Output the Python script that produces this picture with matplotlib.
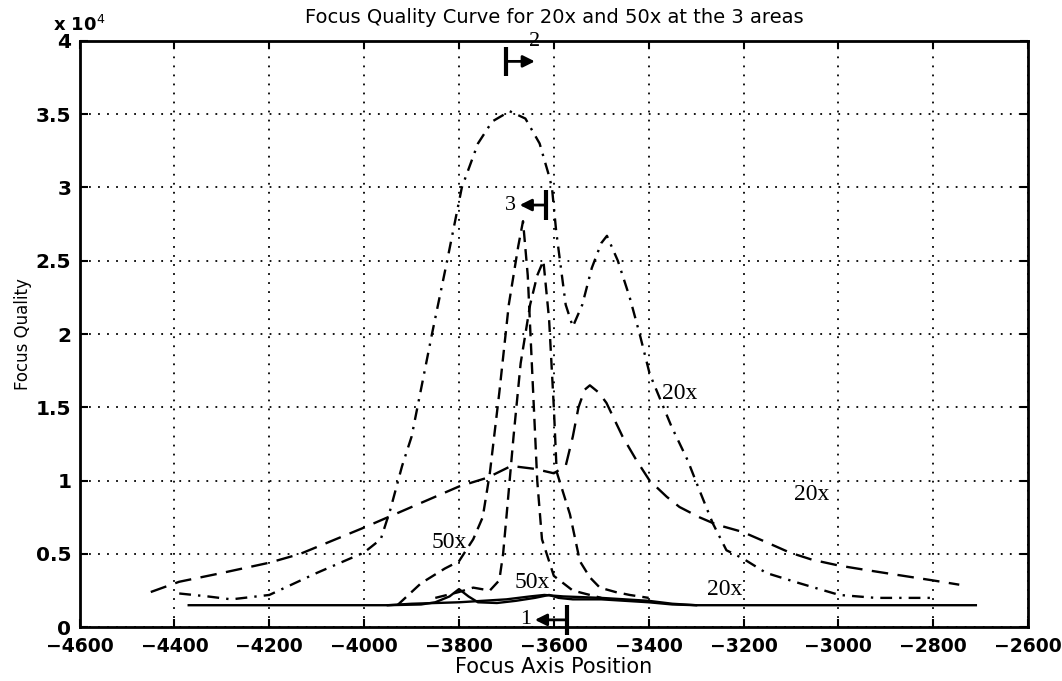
import matplotlib
matplotlib.use('Agg')
import matplotlib.pyplot as plt

# focus quality values are read in units of 1e4
# 20x, area 2 (dash-dot, big peak)
x_20x_a2 = [-4390, -4330, -4280, -4200, -4100, -4000, -3965, -3945, -3920, -3900, -3876, -3857,
            -3825, -3794, -3760, -3730, -3693, -3660, -3630, -3612, -3604, -3595, -3587, -3575,
            -3560, -3540, -3520, -3500, -3488, -3465, -3440, -3419, -3398, -3352, -3318, -3293,
            -3265, -3236, -3202, -3152, -3082, -2998, -2921, -2800]
y_20x_a2 = [0.23, 0.21, 0.19, 0.22, 0.37, 0.51, 0.60, 0.80, 1.10, 1.30, 1.69, 2.00,
            2.50, 3.00, 3.30, 3.45, 3.52, 3.47, 3.30, 3.10, 3.00, 2.70, 2.50, 2.20,
            2.05, 2.20, 2.45, 2.62, 2.67, 2.50, 2.25, 2.00, 1.73, 1.37, 1.14, 0.935,
            0.71, 0.525, 0.47, 0.37, 0.30, 0.22, 0.20, 0.20]

# 20x, area 3 (dashed, wide)
x_20x_a3 = [-4450, -4390, -4300, -4200, -4135, -4000, -3900, -3800, -3740, -3690, -3640, -3600,
            -3575, -3560, -3548, -3535, -3524, -3505, -3489, -3455, -3426, -3398, -3362, -3335,
            -3293, -3257, -3202, -3152, -3103, -3055, -2998, -2941, -2872, -2802, -2745]
y_20x_a3 = [0.24, 0.31, 0.37, 0.44, 0.50, 0.68, 0.82, 0.96, 1.02, 1.10, 1.08, 1.05,
            1.10, 1.30, 1.50, 1.62, 1.65, 1.60, 1.53, 1.30, 1.14, 1.00, 0.89, 0.82,
            0.75, 0.70, 0.65, 0.58, 0.51, 0.46, 0.42, 0.39, 0.355, 0.32, 0.29]

# 50x, area 3 (dashed, tall narrow peak)
x_50x_a3 = [-3930, -3880, -3830, -3800, -3770, -3750, -3735, -3715, -3695, -3675, -3665, -3655,
            -3645, -3635, -3625, -3600, -3560, -3500]
y_50x_a3 = [0.15, 0.30, 0.40, 0.45, 0.60, 0.75, 1.05, 1.60, 2.20, 2.60, 2.77, 2.40,
            1.70, 1.00, 0.60, 0.35, 0.25, 0.20]

# 50x, area 2 (dashed, second narrow peak)
x_50x_a2 = [-3850, -3800, -3770, -3735, -3715, -3707, -3700, -3685, -3670, -3650, -3635, -3622,
            -3610, -3600, -3594, -3566, -3545, -3524, -3503, -3470, -3440, -3400]
y_50x_a2 = [0.20, 0.24, 0.27, 0.25, 0.32, 0.50, 0.75, 1.30, 1.80, 2.20, 2.40, 2.50,
            2.10, 1.50, 1.06, 0.77, 0.45, 0.34, 0.27, 0.24, 0.22, 0.20]

# 20x, area 1 (solid, flat)
x_20x_a1 = [-4370, -3950, -3900, -3800, -3700, -3650, -3620, -3580, -3500, -3450, -3400, -3350,
            -3300, -2710]
y_20x_a1 = [0.15, 0.15, 0.16, 0.17, 0.19, 0.21, 0.22, 0.21, 0.20, 0.19, 0.18, 0.16,
            0.15, 0.15]

# 50x, area 1 (solid, small bumps)
x_50x_a1 = [-3950, -3880, -3850, -3820, -3800, -3780, -3760, -3720, -3680, -3640, -3610, -3590,
            -3560, -3500, -3450, -3400, -3350, -3300]
y_50x_a1 = [0.15, 0.155, 0.17, 0.21, 0.26, 0.21, 0.17, 0.165, 0.18, 0.20, 0.22, 0.20,
            0.19, 0.19, 0.18, 0.17, 0.155, 0.15]

curve_labels = [('20x', -3371, 1.56), ('20x', -3093, 0.87), ('20x', -3278, 0.22),
                ('50x', -3857, 0.54), ('50x', -3682, 0.27)]

# area markers: (label, bar x, head x, y)
area_marks = [('2', -3700, -3640, 3.86), ('3', -3616, -3672, 2.88), ('1', -3572, -3640, 0.05)]

fig = plt.figure(figsize=(10.62, 6.81), dpi=100)
ax = fig.add_axes([0.075, 0.079, 0.893, 0.861])

lw = 1.7
ax.plot(x_20x_a2, y_20x_a2, color='black', lw=lw, linestyle=(0, (5, 3, 1, 3)))
ax.plot(x_20x_a3, y_20x_a3, color='black', lw=lw, linestyle=(0, (7, 4)))
ax.plot(x_50x_a3, y_50x_a3, color='black', lw=lw, linestyle=(0, (5, 3)))
ax.plot(x_50x_a2, y_50x_a2, color='black', lw=lw, linestyle=(0, (5, 3)))
ax.plot(x_20x_a1, y_20x_a1, color='black', lw=lw)
ax.plot(x_50x_a1, y_50x_a1, color='black', lw=lw)

for txt, xx, yy in curve_labels:
    ax.text(xx, yy, txt, family='Liberation Serif', fontsize=17, ha='left', va='baseline')

for txt, xbar, xhead, yy in area_marks:
    ax.annotate('', xy=(xhead, yy), xytext=(xbar, yy),
                arrowprops=dict(arrowstyle='-|>,head_length=0.7,head_width=0.35', color='black',
                                lw=2, shrinkA=0, shrinkB=0),
                annotation_clip=False)
    ax.vlines(xbar, yy - 0.1, yy + 0.1, color='black', lw=3, clip_on=False)
    if xhead > xbar:
        ax.text(xhead - 12, yy + 0.07, txt, family='Liberation Serif', fontsize=16,
                ha='left', va='bottom', clip_on=False)
    else:
        ax.text(xhead - 8, yy, txt, family='Liberation Serif', fontsize=16,
                ha='right', va='center', clip_on=False)

ax.set_xlim(-4600, -2600)
ax.set_ylim(0, 4)
ax.set_xticks(range(-4600, -2599, 200))
ax.set_yticks([0, 0.5, 1, 1.5, 2, 2.5, 3, 3.5, 4])
ax.set_yticklabels(['0', '0.5', '1', '1.5', '2', '2.5', '3', '3.5', '4'])
ax.grid(True, color='black', linestyle=(0, (1, 4)), lw=1.3)
ax.tick_params(direction='in', length=6, width=1.5, top=True, right=True)
ax.tick_params(axis='y', labelsize=14.5, pad=6)
ax.tick_params(axis='x', labelsize=13.5, pad=7)
for lab in ax.get_xticklabels() + ax.get_yticklabels():
    lab.set_fontweight('bold')
for sp in ax.spines.values():
    sp.set_linewidth(2)

ax.set_title('Focus Quality Curve for 20x and 50x at the 3 areas', fontsize=14, pad=13)
ax.set_xlabel('Focus Axis Position', fontsize=15, labelpad=1)
ax.set_ylabel('Focus Quality', fontsize=12, labelpad=3)
ax.text(0.0, 1.01, r'x 10$^4$', transform=ax.transAxes, fontsize=13, fontweight='bold',
        ha='center', va='bottom')

fig.savefig('out.png', dpi=100)
